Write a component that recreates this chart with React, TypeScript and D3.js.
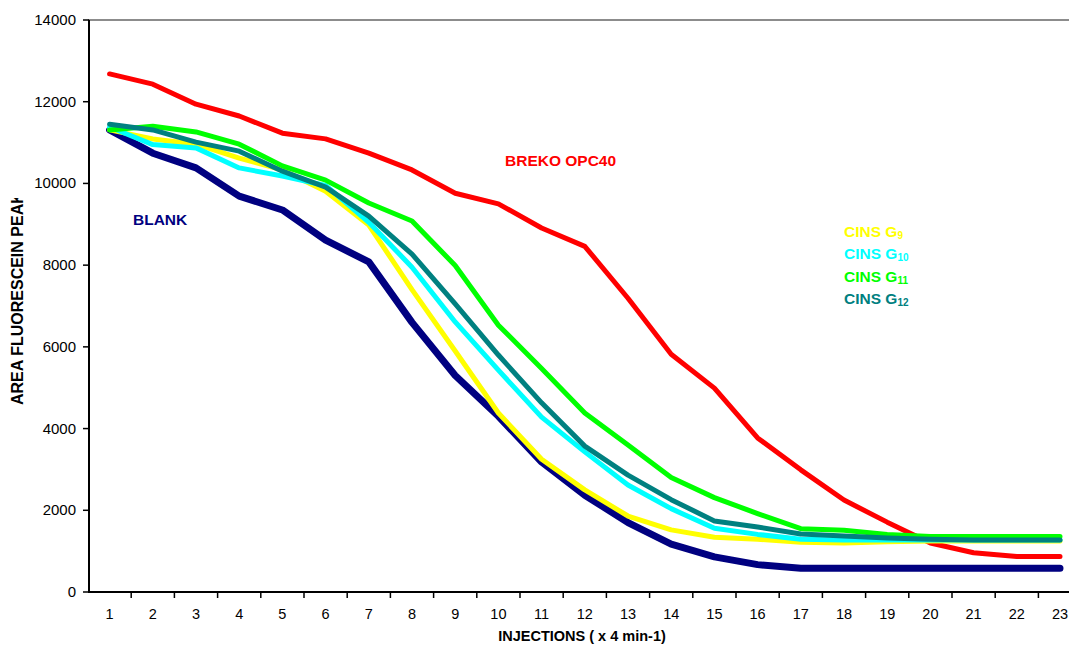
import { useEffect, useRef } from "react";
import * as d3 from "d3";

// injection numbers (x axis categories)
const injections = d3.range(1, 24);

// y axis tick values
const yTicks = [0, 2000, 4000, 6000, 8000, 10000, 12000, 14000];

// series values
const breko = [12680, 12430, 11940, 11650, 11230, 11090, 10740, 10330, 9760, 9500, 8910, 8460, 7190, 5820, 4990, 3770, 2990, 2250, 1710, 1200, 960, 870, 870];
const blank = [11310, 10740, 10380, 9690, 9350, 8610, 8080, 6600, 5300, 4300, 3180, 2370, 1700, 1170, 860, 670, 580, 580, 580, 580, 580, 580, 580];
const cinsG9 = [11310, 11090, 10960, 10620, 10330, 9810, 8980, 7400, 5900, 4380, 3250, 2500, 1860, 1520, 1340, 1290, 1220, 1200, 1230, 1250, 1250, 1250, 1250];
const cinsG10 = [11380, 10950, 10870, 10380, 10180, 9950, 9050, 7950, 6610, 5430, 4280, 3430, 2620, 2040, 1560, 1410, 1290, 1270, 1270, 1270, 1270, 1270, 1270];
const cinsG11 = [11310, 11400, 11260, 10960, 10430, 10080, 9520, 9080, 7990, 6530, 5470, 4380, 3600, 2800, 2310, 1920, 1550, 1510, 1410, 1360, 1360, 1360, 1360];
const cinsG12 = [11450, 11310, 11010, 10790, 10300, 9910, 9200, 8270, 7050, 5800, 4630, 3570, 2860, 2260, 1740, 1590, 1420, 1370, 1320, 1290, 1270, 1270, 1270];

const App = () => {
  const svgRef = useRef(null);

  const width = 1069;
  const height = 648;

  useEffect(() => {
    if (!svgRef.current) return;
    document.body.style.margin = "0";

    const svg = d3.select(svgRef.current);
    svg.selectAll("*").remove();

    const font = "Arial, 'Liberation Sans', sans-serif";
    const left = 88;
    const step = 43.2;

    const x = d3.scaleBand<number>()
      .domain(injections)
      .range([left, left + step * injections.length])
      .paddingInner(0)
      .paddingOuter(0);
    const y = d3.scaleLinear().domain([0, 14000]).range([592, 20]);

    // top gridline at 14000
    svg.append("line")
      .attr("x1", left).attr("x2", width)
      .attr("y1", y(14000)).attr("y2", y(14000))
      .attr("stroke", "#8c8c8c").attr("stroke-width", 2);

    // y axis
    const yAxis = svg.append("g");
    yAxis.append("line")
      .attr("x1", left + 1).attr("x2", left + 1)
      .attr("y1", y(14000)).attr("y2", y(0))
      .attr("stroke", "#000").attr("stroke-width", 2);
    yTicks.forEach((t) => {
      yAxis.append("line")
        .attr("x1", left - 5).attr("x2", left + 1)
        .attr("y1", y(t)).attr("y2", y(t))
        .attr("stroke", "#000").attr("stroke-width", 1.5);
      yAxis.append("text")
        .attr("x", 76).attr("y", y(t) + 5)
        .attr("text-anchor", "end")
        .attr("font-family", font).attr("font-size", 15)
        .text(t);
    });

    // x axis
    const xAxis = svg.append("g");
    xAxis.append("line")
      .attr("x1", left).attr("x2", width)
      .attr("y1", y(0)).attr("y2", y(0))
      .attr("stroke", "#000").attr("stroke-width", 2);
    injections.forEach((d) => {
      const bx = (x(d) as number) + step;
      xAxis.append("line")
        .attr("x1", bx).attr("x2", bx)
        .attr("y1", y(0)).attr("y2", y(0) + 6)
        .attr("stroke", "#000").attr("stroke-width", 1.5);
      xAxis.append("text")
        .attr("x", (x(d) as number) + step / 2).attr("y", 619)
        .attr("text-anchor", "middle")
        .attr("font-family", font).attr("font-size", 14.5)
        .text(d);
    });

    // axis titles
    svg.append("text")
      .attr("x", 582).attr("y", 641)
      .attr("text-anchor", "middle")
      .attr("font-family", font).attr("font-size", 14.5).attr("font-weight", "bold")
      .text("INJECTIONS ( x 4 min-1)");

    // y title is cut off at the top, as in the original
    svg.append("clipPath").attr("id", "ytitle-clip")
      .append("rect").attr("x", 0).attr("y", 198).attr("width", 40).attr("height", 300);
    svg.append("g")
      .attr("clip-path", "url(#ytitle-clip)")
      .append("text")
      .attr("transform", "translate(23,405) rotate(-90)")
      .attr("font-family", font).attr("font-size", 16).attr("font-weight", "bold")
      .text("AREA FLUORESCEIN PEAK");

    // lines
    const line = d3.line<number>()
      .x((_, i) => (x(injections[i]) as number) + step / 2)
      .y((v) => y(v));

    const series = [
      { values: breko, color: "#ff0000", w: 5 },
      { values: blank, color: "#000080", w: 7 },
      { values: cinsG9, color: "#ffff00", w: 5 },
      { values: cinsG10, color: "#00ffff", w: 5 },
      { values: cinsG11, color: "#00ff00", w: 5 },
      { values: cinsG12, color: "#008080", w: 5 },
    ];
    series.forEach((s) => {
      svg.append("path")
        .attr("d", line(s.values))
        .attr("fill", "none")
        .attr("stroke", s.color)
        .attr("stroke-width", s.w)
        .attr("stroke-linejoin", "round")
        .attr("stroke-linecap", "round");
    });

    // labels
    svg.append("text")
      .attr("x", 505).attr("y", 166)
      .attr("font-family", font).attr("font-size", 15.5).attr("font-weight", "bold")
      .attr("fill", "#ff0000")
      .text("BREKO OPC40");
    svg.append("text")
      .attr("x", 133).attr("y", 225)
      .attr("font-family", font).attr("font-size", 15.5).attr("font-weight", "bold")
      .attr("fill", "#000080")
      .text("BLANK");

    const legend = [
      { sub: "9", color: "#ffff00" },
      { sub: "10", color: "#00ffff" },
      { sub: "11", color: "#00ff00" },
      { sub: "12", color: "#008080" },
    ];
    legend.forEach((l, i) => {
      const t = svg.append("text")
        .attr("x", 844).attr("y", 237 + i * 22.4)
        .attr("font-family", font).attr("font-weight", "bold")
        .attr("fill", l.color);
      t.append("tspan").attr("font-size", 15.5).text("CINS G");
      t.append("tspan").attr("font-size", 10).attr("dy", 2).text(l.sub);
    });
  }, []);

  return (
    <div style={{ position: "absolute", left: 0, top: 0, width: `${width}px`, height: `${height}px`, overflow: "hidden", background: "#fff" }}>
      <svg ref={svgRef} width={width} height={height} viewBox={`0 0 ${width} ${height}`} />
    </div>
  );
};

export default App;
